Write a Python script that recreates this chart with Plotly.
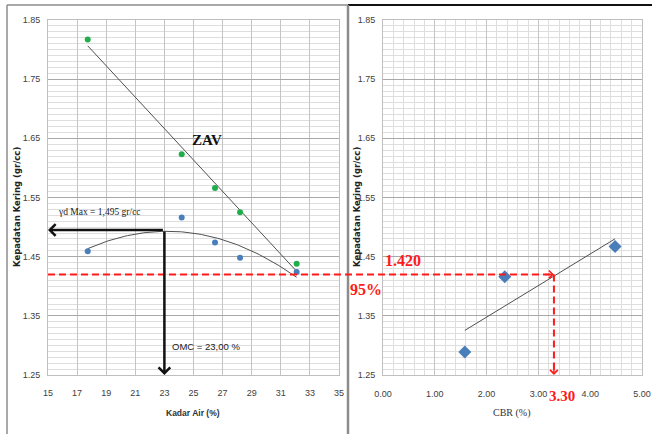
import numpy as np
import plotly.graph_objects as go

# ---- compaction test (left) ----
moisture = [17.73, 24.19, 26.48, 28.20, 32.09]          # Kadar Air (%)
dry_density = [1.459, 1.516, 1.474, 1.448, 1.424]       # gr/cc
zav_density = [1.817, 1.623, 1.566, 1.525, 1.438]       # zero air voids, gr/cc

# ---- CBR test (right) ----
cbr = [1.58, 2.35, 4.48]                                # CBR (%)
cbr_density = [1.289, 1.416, 1.467]                     # gr/cc

gd_max = 1.495        # maximum dry density
omc = 23.00           # optimum moisture content
density_95 = 1.420    # 95 % of maximum dry density
cbr_design = 3.30     # CBR at 95 % density

x1_ticks = list(range(15, 36, 2))
x2_ticks = [0, 1, 2, 3, 4, 5]
y_ticks = [1.25, 1.35, 1.45, 1.55, 1.65, 1.75, 1.85]

W, H = 652, 434
xd1 = [48 / W, 339 / W]
xd2 = [383 / W, 642 / W]
yd = [59 / H, 414 / H]
x2_range = [0, 5]

BLUE = "#4a7ebb"
GREEN = "#1fae4b"
RED = "#ff1a1a"
TICKFONT = dict(family="Liberation Sans Narrow, Liberation Sans, sans-serif", size=9, color="#404040")

fig = go.Figure()

# trendlines
zav_fit = np.polyfit(moisture, zav_density, 1)
xz = np.array([min(moisture), max(moisture)])
fig.add_trace(go.Scatter(x=xz, y=np.polyval(zav_fit, xz), mode="lines",
                         line=dict(color="#505050", width=1), xaxis="x", yaxis="y"))
dd_fit = np.polyfit(moisture, dry_density, 2)
xc = np.linspace(min(moisture), max(moisture), 80)
fig.add_trace(go.Scatter(x=xc, y=np.polyval(dd_fit, xc), mode="lines",
                         line=dict(color="#505050", width=1), xaxis="x", yaxis="y"))
cbr_fit = np.polyfit(cbr, cbr_density, 1)
xcb = np.array([min(cbr), max(cbr)])
fig.add_trace(go.Scatter(x=xcb, y=np.polyval(cbr_fit, xcb), mode="lines",
                         line=dict(color="#505050", width=1), xaxis="x2", yaxis="y2"))

# points
fig.add_trace(go.Scatter(x=moisture, y=dry_density, mode="markers",
                         marker=dict(color=BLUE, size=6), xaxis="x", yaxis="y"))
fig.add_trace(go.Scatter(x=moisture, y=zav_density, mode="markers",
                         marker=dict(color=GREEN, size=6), xaxis="x", yaxis="y"))
fig.add_trace(go.Scatter(x=cbr, y=cbr_density, mode="markers",
                         marker=dict(color=BLUE, size=10, symbol="diamond"), xaxis="x2", yaxis="y2"))


def x2_paper(v):
    return xd2[0] + (v - x2_range[0]) / (x2_range[1] - x2_range[0]) * (xd2[1] - xd2[0])


shapes = [
    # frame
    dict(type="line", xref="paper", yref="paper", x0=7 / W, x1=7 / W, y0=0, y1=1 - 5 / H,
         line=dict(color="#8c8c8c", width=1.5)),
    dict(type="line", xref="paper", yref="paper", x0=7 / W, x1=348 / W, y0=1 - 5 / H, y1=1 - 5 / H,
         line=dict(color="#8c8c8c", width=1.5)),
    dict(type="line", xref="paper", yref="paper", x0=348 / W, x1=1, y0=1 - 5 / H, y1=1 - 5 / H,
         line=dict(color="#111111", width=2)),
    dict(type="line", xref="paper", yref="paper", x0=348 / W, x1=348 / W, y0=0, y1=1 - 5 / H,
         line=dict(color="#8c8c8c", width=2.5)),
    # 95 % density line across both charts
    dict(type="line", xref="paper", yref="y", x0=xd1[0], x1=x2_paper(cbr_design),
         y0=density_95, y1=density_95, line=dict(color=RED, width=2, dash="7px,4px")),
    dict(type="line", xref="x2", yref="y2", x0=cbr_design, x1=cbr_design,
         y0=density_95, y1=1.256, line=dict(color=RED, width=2, dash="7px,4px")),
]


def paper_text(x, y, text, font, **kw):
    return dict(x=x / W, y=1 - y / H, xref="paper", yref="paper", text=text, showarrow=False,
                xanchor="center", yanchor="middle", font=font, **kw)


annotations = [
    # max dry density / OMC arrows
    dict(x=x1_ticks[0], y=gd_max, ax=omc, ay=gd_max, xref="x", yref="y", axref="x", ayref="y",
         showarrow=True, arrowhead=4, arrowsize=0.9, arrowwidth=2.5, arrowcolor="#111111", text=""),
    dict(x=omc, y=y_ticks[0], ax=omc, ay=gd_max, xref="x", yref="y", axref="x", ayref="y",
         showarrow=True, arrowhead=4, arrowsize=0.9, arrowwidth=2.5, arrowcolor="#111111", text=""),
    # red arrowheads
    dict(x=cbr_design, y=density_95, ax=cbr_design - 0.2, ay=density_95, xref="x2", yref="y2",
         axref="x2", ayref="y2", showarrow=True, arrowhead=4, arrowsize=1, arrowwidth=1.5,
         arrowcolor=RED, text=""),
    dict(x=cbr_design, y=y_ticks[0], ax=cbr_design, ay=y_ticks[0] + 0.02, xref="x2", yref="y2",
         axref="x2", ayref="y2", showarrow=True, arrowhead=4, arrowsize=1, arrowwidth=1.5,
         arrowcolor=RED, text=""),
    # labels
    dict(x=25.9, y=1.647, xref="x", yref="y", text="<b>ZAV</b>", showarrow=False,
         font=dict(family="Liberation Serif", size=15, color="#111111")),
    dict(x=15.55, y=1.525, xref="x", yref="y", text="γd Max = 1,495 gr/cc", showarrow=False,
         xanchor="left", font=dict(family="Liberation Serif", size=9.5, color="#222222")),
    dict(x=23.38, y=1.299, xref="x", yref="y", text="OMC = 23,00 %", showarrow=False,
         xanchor="left", font=dict(family="Liberation Sans Narrow, Liberation Sans", size=9.5, color="#222222")),
    dict(x=0.39, y=1.444, xref="x2", yref="y2", text="<b>1.420</b>", showarrow=False,
         font=dict(family="Liberation Serif", size=16, color=RED)),
    paper_text(366, 289, "<b>95%</b>", dict(family="Liberation Serif", size=16, color=RED)),
    paper_text(562, 396, "<b>3.30</b>", dict(family="Liberation Serif", size=15, color=RED)),
    # axis titles
    paper_text(193, 413, "<b>Kadar Air (%)</b>",
               dict(family="Liberation Sans Narrow, Liberation Sans", size=8.5, color="#333333")),
    paper_text(512, 413, "CBR (%)", dict(family="Liberation Serif", size=10, color="#333333")),
    paper_text(17, 207, "<b>Kepadatan Kering (gr/cc)</b>",
               dict(family="DejaVu Sans", size=8.5, color="#222222"), textangle=-90),
    paper_text(357, 207, "<b>Kepadatan Kering (gr/cc)</b>",
               dict(family="DejaVu Sans", size=8.5, color="#222222"), textangle=-90),
]

common_axis = dict(showline=True, linecolor="#bfbfbf", linewidth=1, mirror=True, zeroline=False,
                   ticks="", tickfont=TICKFONT, automargin=False, layer="below traces")

fig.update_layout(
    width=W, height=H, margin=dict(l=0, r=0, t=0, b=0),
    template="none", paper_bgcolor="white", plot_bgcolor="white", showlegend=False,
    xaxis=dict(domain=xd1, range=[15, 35], tickvals=x1_ticks, showgrid=True, gridcolor="#c4c4c4",
               ticklabelstandoff=9, **common_axis),
    yaxis=dict(domain=yd, range=[1.25, 1.85], tickvals=y_ticks, tickformat=".2f", showgrid=True,
               gridcolor="#a8a8a8", ticklabelstandoff=5,
               minor=dict(dtick=0.01, tick0=1.25, showgrid=True, gridcolor="#dedede"), **common_axis),
    xaxis2=dict(domain=xd2, range=x2_range, tickvals=x2_ticks, tickformat=".2f", showgrid=True,
                gridcolor="#c4c4c4", ticklabelstandoff=10, anchor="y2",
                minor=dict(dtick=0.2, tick0=0, showgrid=True, gridcolor="#dedede"), **common_axis),
    yaxis2=dict(domain=yd, range=[1.25, 1.85], tickvals=y_ticks, tickformat=".2f", showgrid=True,
                gridcolor="#a8a8a8", ticklabelstandoff=5, anchor="x2",
                minor=dict(dtick=0.01, tick0=1.25, showgrid=True, gridcolor="#dedede"), **common_axis),
    shapes=shapes,
    annotations=annotations,
)

fig.write_html("out.html")
